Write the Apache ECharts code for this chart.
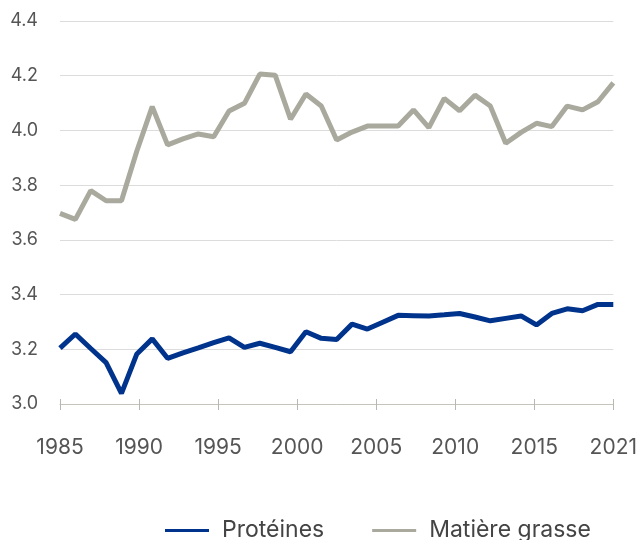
<!DOCTYPE html>
<html>
<head>
<meta charset="utf-8">
<script src="https://cdn.jsdelivr.net/npm/echarts@6/dist/echarts.min.js"></script>
<style>
html,body{margin:0;padding:0;background:#fff;}
#chart{width:640px;height:540px;}
</style>
</head>
<body>
<div id="chart"></div>
<script>
var years = [1985,1986,1987,1988,1989,1990,1991,1992,1993,1994,1995,1996,1997,1998,1999,2000,2001,2002,2003,2004,2005,2006,2007,2008,2009,2010,2011,2012,2013,2014,2015,2016,2017,2018,2019,2020,2021];
var proteines = [3.204,3.256,3.203,3.151,3.039,3.183,3.238,3.167,3.187,3.205,3.224,3.242,3.207,3.222,3.207,3.191,3.264,3.240,3.236,3.292,3.274,3.299,3.324,3.323,3.322,3.326,3.331,3.318,3.304,3.313,3.322,3.289,3.331,3.348,3.341,3.364,3.364];
var matiereGrasse = [3.697,3.675,3.780,3.743,3.743,3.925,4.087,3.947,3.969,3.987,3.977,4.071,4.099,4.206,4.202,4.041,4.133,4.089,3.965,3.994,4.016,4.016,4.016,4.075,4.010,4.117,4.072,4.129,4.089,3.953,3.993,4.026,4.014,4.089,4.075,4.105,4.174];
var tickLabels = ['1985','1990','1995','2000','2005','2010','2015','2021'];

var seriesNames = ['Protéines','Matière grasse'];
var colors = ['#00338b','#a9a99e'];

function pairs(vals){ return years.map(function(y,i){ return [y, vals[i]]; }); }

var chart = echarts.init(document.getElementById('chart'), null, {renderer:'canvas'});
var font = 'Inter, "Noto Sans", sans-serif';
chart.setOption({
  animation:false,
  grid:{left:60,right:22,top:21,bottom:136},
  legend:{
    left:160, top:514, itemGap:48, itemWidth:44, itemHeight:3,
    icon:'rect',
    textStyle:{fontSize:23,color:'#444',fontFamily:font,padding:[0,0,0,8]},
    data:[{name:seriesNames[0],itemStyle:{color:colors[0]}},{name:seriesNames[1],itemStyle:{color:colors[1]}}]
  },
  xAxis:[
    {type:'value',min:years[0],max:years[years.length-1],show:false},
    {type:'category',data:tickLabels,boundaryGap:false,position:'bottom',
     axisLine:{show:true,lineStyle:{color:'#c4c4bc',width:1}},
     axisTick:{show:true,length:6,alignWithLabel:true,interval:0,lineStyle:{color:'#b8b8b0',width:1}},
     axisLabel:{margin:33,fontSize:21,color:'#555',fontFamily:font,interval:0},
     splitLine:{show:false}},
    {type:'category',data:tickLabels,boundaryGap:false,position:'bottom',
     axisLine:{show:false},
     axisTick:{show:true,inside:true,length:5,interval:0,lineStyle:{color:'#b8b8b0',width:1}},
     axisLabel:{show:false},splitLine:{show:false}}
  ],
  yAxis:{type:'value',min:3.0,max:4.4,interval:0.2,
    axisLine:{show:false},axisTick:{show:false},
    axisLabel:{margin:22,fontSize:18,color:'#555',fontFamily:font,formatter:function(v){return v.toFixed(1);}},
    splitLine:{lineStyle:{color:'#dcdcdc',width:1}}},
  series:[
    {name:seriesNames[0],type:'line',xAxisIndex:0,data:pairs(proteines),showSymbol:false,
     lineStyle:{color:colors[0],width:5},itemStyle:{color:colors[0]}},
    {name:seriesNames[1],type:'line',xAxisIndex:0,data:pairs(matiereGrasse),showSymbol:false,
     lineStyle:{color:colors[1],width:5},itemStyle:{color:colors[1]}}
  ]
});
</script>
</body>
</html>
